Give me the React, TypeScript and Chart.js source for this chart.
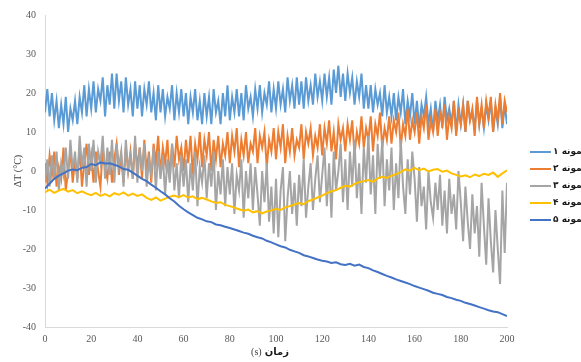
import React, { useEffect, useRef } from "react";
import { Chart, registerables } from "chart.js";

Chart.register(...registerables);

// sampling times (s)
const timeFine: number[] = Array.from({ length: 201 }, (_, i) => i);
const timeCoarse: number[] = Array.from({ length: 101 }, (_, i) => i * 2);

const xTicksMin = 0;
const xTicksMax = 200;
const xTickStep = 20;
const yTicksMin = -40;
const yTicksMax = 40;
const yTickStep = 10;

const seriesNames = ["نمونه ۱", "نمونه ۲", "نمونه ۳", "نمونه ۴", "نمونه ۵"];
const seriesColors = ["#5B9BD5", "#ED7D31", "#A5A5A5", "#FFC000", "#4472C4"];

// نمونه ۱ (1 s step)
const sample1: number[] = [
  15, 21, 14, 20, 13, 18, 11, 17, 12, 19,
  10, 16, 13, 18, 12, 19, 15, 22, 14, 21,
  16, 23, 15, 21, 18, 24, 14, 22, 17, 25,
  16, 25, 18, 23, 15, 24, 17, 21, 14, 23,
  16, 22, 14, 21, 17, 23, 15, 20, 13, 22,
  15, 21, 14, 19, 16, 22, 13, 20, 15, 21,
  14, 20, 12, 19, 15, 21, 13, 18, 12, 20,
  14, 19, 12, 21, 15, 18, 12, 20, 14, 22,
  13, 19, 15, 21, 14, 20, 13, 22, 16, 19,
  14, 21, 16, 22, 15, 20, 17, 23, 15, 21,
  16, 23, 17, 21, 15, 24, 18, 22, 16, 24,
  17, 23, 16, 24, 18, 22, 17, 25, 19, 23,
  18, 25, 19, 24, 17, 26, 20, 27, 19, 25,
  18, 25, 20, 24, 17, 23, 19, 25, 16, 22,
  16, 22, 15, 21, 17, 20, 14, 22, 15, 19,
  14, 20, 13, 19, 15, 21, 12, 18, 14, 20,
  12, 18, 11, 17, 14, 19, 12, 16, 10, 18,
  13, 17, 11, 19, 13, 16, 12, 18, 10, 17,
  12, 17, 10, 18, 13, 15, 11, 18, 12, 16,
  11, 17, 13, 18, 10, 16, 12, 19, 11, 17,
  12,
];

// نمونه ۲ (1 s step)
const sample2: number[] = [
  2, -3, 4, -1, 5, -4, 1, -2, 6, -5,
  0, 5, -3, 3, -2, 6, -4, 2, 7, -1,
  4, -3, 5, 0, -4, 6, 1, -2, 5, -3,
  3, 7, -1, 4, -3, 6, 0, 5, -2, 7,
  1, 6, -2, 8, 0, 5, -3, 7, 2, 9,
  -1, 6, 2, 8, -2, 7, 1, 9, 3, 6,
  0, 8, 2, 9, -1, 7, 3, 10, 1, 8,
  4, 10, 0, 8, 3, 9, 1, 7, 4, 10,
  2, 9, 5, 11, 1, 8, 4, 10, 2, 7,
  5, 11, 2, 9, 6, 10, 1, 8, 5, 11,
  3, 10, 6, 12, 2, 9, 5, 11, 4, 8,
  6, 12, 3, 10, 7, 11, 4, 9, 6, 12,
  4, 11, 7, 13, 5, 10, 3, 12, 8, 11,
  5, 12, 8, 13, 4, 10, 7, 14, 6, 11,
  8, 14, 5, 12, 9, 15, 6, 11, 8, 14,
  7, 13, 10, 15, 6, 12, 9, 16, 8, 13,
  10, 15, 7, 14, 11, 17, 8, 13, 10, 16,
  9, 15, 12, 17, 8, 14, 11, 18, 9, 15,
  12, 17, 10, 18, 13, 16, 9, 19, 12, 17,
  11, 18, 14, 19, 10, 17, 13, 20, 12, 18,
  15,
];

// نمونه ۳ (1 s step)
const sample3: number[] = [
  -3, 3, -4, 4, -2, 5, -5, 2, -1, 6,
  -2, 8, 0, 5, -3, 9, 1, 6, -4, 7,
  0, 8, -3, 5, 2, 9, -2, 6, -1, 8,
  -3, 7, 1, 5, -4, 8, 0, 4, -2, 9,
  -3, 6, 0, 7, -4, 3, -1, 6, -5, 5,
  -2, 4, -6, 3, -3, 7, -5, 2, -7, 4,
  -4, 3, -8, 2, -5, 5, -9, 1, -3, 4,
  -7, 2, -4, 5, -10, 0, -6, 3, -9, 1,
  -6, 2, -11, -1, -5, 3, -12, 0, -7, 2,
  -10, 1, -6, -14, 0, -8, 2, -13, -4, -16,
  -2, -17, -5, 1, -18, -7, 0, -11, -3, -14,
  -1, -9, 3, -12, -4, 2, -10, -2, 4, -8,
  -1, 6, -9, 2, -12, 5, -5, 0, 7, -8,
  3, -10, 5, -4, 8, -7, 2, -11, 6, -3,
  9, -6, 4, -11, 7, -2, 8, -9, 3, -5,
  6, -10, 2, -7, 8, -4, -11, 3, -6, 5,
  -2, -13, 1, -9, -4, -15, 0, -8, -12, -3,
  -10, -1, -14, -5, -16, -2, -11, -6, -15, 0,
  -8, -18, -4, -13, -20, -6, -16, -9, -22, -3,
  -14, -24, -7, -18, -26, -10, -20, -29, -5, -21,
  -3,
];

// نمونه ۴ (2 s step)
const sample4: number[] = [
  -5.5, -4.8, -5.6, -5.0, -4.6, -5.3, -4.9, -5.7, -5.2, -5.8,
  -6.2, -5.6, -6.4, -5.9, -6.5, -5.7, -6.1, -5.5, -6.3, -5.8,
  -6.4, -6.0, -6.9, -7.4, -6.8, -7.6, -7.1, -6.6, -6.3, -6.7,
  -6.2, -6.8, -6.5, -7.2, -6.9, -7.3, -7.8, -8.2, -8.0, -8.7,
  -9.0, -9.4, -9.8, -10.2, -9.9, -10.6, -10.3, -10.9, -10.4, -10.1,
  -9.7, -10.0, -9.3, -9.0, -8.6, -8.2, -8.5, -7.7, -7.3, -6.8,
  -6.3, -5.7, -5.2, -4.9, -4.3, -3.8, -4.0, -3.3, -2.9, -2.6,
  -2.3, -2.8, -1.9, -1.5, -1.8, -1.2, -0.8, -0.3, 0.4, 0.1,
  0.8, 0.2, 0.6, -0.1, 0.3, 0.5, -0.2, 0.1, -0.6, -1.0,
  -1.4, -1.1, -1.6, -0.9, -1.3, -0.7, -1.0, -0.4, -1.5, -0.6,
  0.2,
];

// نمونه ۵ (2 s step)
const sample5: number[] = [
  -4.5, -3.2, -2.0, -1.2, -0.6, 0.1, 0.4, 0.2, 0.8, 1.0,
  1.8, 1.5, 2.2, 1.9, 2.0, 1.6, 1.2, 0.5, 0.3, -0.4,
  -1.2, -2.0, -2.6, -3.5, -4.3, -5.2, -6.0, -7.0, -7.8, -8.9,
  -9.8, -10.6, -11.3, -12.0, -12.4, -12.9, -13.1, -13.7, -13.9, -14.3,
  -14.6, -15.0, -15.4, -15.8, -16.1, -16.6, -17.0, -17.3, -17.9, -18.3,
  -18.8, -19.3, -19.6, -20.2, -20.6, -21.0, -21.6, -21.9, -22.3, -22.7,
  -23.0, -23.2, -23.6, -23.4, -23.9, -24.1, -23.8, -24.3, -24.0, -24.6,
  -24.9, -25.5, -25.9, -26.4, -26.9, -27.3, -27.8, -28.2, -28.6, -29.0,
  -29.5, -29.9, -30.3, -30.7, -31.2, -31.5, -31.8, -32.3, -32.6, -33.0,
  -33.3, -33.8, -34.1, -34.5, -34.9, -35.3, -35.7, -36.0, -36.2, -36.7,
  -37.2,
];

const xTitleWord = "زمان";
const xTitleUnit = "(s)";
const yTitle = "ΔT (°C)";

const toPoints = (times: number[], values: number[]) =>
  values.map((v, i) => ({ x: times[i], y: v }));

const overlayPlugin = {
  id: "overlayLegendTitle",
  afterDraw(chart: any) {
    const { ctx, chartArea } = chart;
    ctx.save();
    // legend
    const lx = chartArea.right + 23;
    const ly0 = 152;
    const gap = 17;
    seriesNames.forEach((name, i) => {
      const y = ly0 + i * gap;
      ctx.strokeStyle = seriesColors[i];
      ctx.lineWidth = 2;
      ctx.beginPath();
      ctx.moveTo(lx, y);
      ctx.lineTo(lx + 21, y);
      ctx.stroke();
      ctx.fillStyle = "#1a1a1a";
      ctx.font = 'bold 9px "DejaVu Sans", sans-serif';
      ctx.textAlign = "left";
      ctx.textBaseline = "middle";
      ctx.fillText(name, lx + 23, y);
    });
    // x axis title: "(s)" regular + "زمان" bold (RTL reading)
    const cx = (chartArea.left + chartArea.right) / 2 - 6;
    const ty = 352;
    ctx.textBaseline = "middle";
    ctx.textAlign = "left";
    ctx.font = '10px "Liberation Serif", serif';
    const wUnit = ctx.measureText(xTitleUnit).width;
    ctx.font = 'bold 10px "DejaVu Sans", sans-serif';
    const wWord = ctx.measureText(xTitleWord).width;
    const total = wUnit + 3 + wWord;
    const sx = cx - total / 2;
    ctx.fillStyle = "#404040";
    ctx.font = '10px "Liberation Serif", serif';
    ctx.fillText(xTitleUnit, sx, ty);
    ctx.fillStyle = "#1a1a1a";
    ctx.font = 'bold 10px "DejaVu Sans", sans-serif';
    ctx.fillText(xTitleWord, sx + wUnit + 3, ty);
    ctx.restore();
  },
};

export default function App() {
  const canvasRef = useRef<HTMLCanvasElement | null>(null);

  useEffect(() => {
    if (!canvasRef.current) return;
    const series = [
      { values: sample1, times: timeFine, width: 2, order: 5 },
      { values: sample2, times: timeFine, width: 2, order: 4 },
      { values: sample3, times: timeFine, width: 2, order: 3 },
      { values: sample4, times: timeCoarse, width: 2, order: 2 },
      { values: sample5, times: timeCoarse, width: 2, order: 1 },
    ];
    const chart = new Chart(canvasRef.current, {
      type: "line",
      data: {
        datasets: series.map((s, i) => ({
          label: seriesNames[i],
          data: toPoints(s.times, s.values),
          borderColor: seriesColors[i],
          backgroundColor: seriesColors[i],
          borderWidth: s.width,
          pointRadius: 0,
          tension: 0,
          fill: false,
          order: s.order,
        })),
      },
      options: {
        animation: false,
        responsive: false,
        maintainAspectRatio: false,
        layout: { padding: { top: 14, right: 74, bottom: 0, left: 0 } },
        plugins: {
          legend: { display: false },
          tooltip: { enabled: false },
        },
        scales: {
          x: {
            type: "linear",
            min: xTicksMin,
            max: xTicksMax,
            grid: { display: false, drawTicks: false },
            border: { display: true, color: "#d9d9d9", width: 1 },
            ticks: {
              stepSize: xTickStep,
              padding: 6,
              color: "#595959",
              font: { family: "'Liberation Serif', serif", size: 10 },
            },
            afterFit: (scale: any) => {
              scale.height = 35;
            },
          },
          y: {
            type: "linear",
            min: yTicksMin,
            max: yTicksMax,
            grid: { display: false, drawTicks: false },
            border: { display: true, color: "#d9d9d9", width: 1 },
            ticks: {
              stepSize: yTickStep,
              padding: 9,
              color: "#595959",
              font: { family: "'Liberation Serif', serif", size: 10 },
            },
            title: {
              display: true,
              text: yTitle,
              color: "#404040",
              font: { family: "'Liberation Serif', serif", size: 10 },
              padding: { top: 12, bottom: 0 },
            },
            afterFit: (scale: any) => {
              scale.width = 45;
            },
          },
        },
      },
      plugins: [overlayPlugin],
    });
    return () => chart.destroy();
  }, []);

  return (
    <div style={{ position: "fixed", left: 0, top: 0, width: 581, height: 362, background: "#fff" }}>
      <canvas ref={canvasRef} width={581} height={362} style={{ width: 581, height: 362, display: "block" }} />
    </div>
  );
}
